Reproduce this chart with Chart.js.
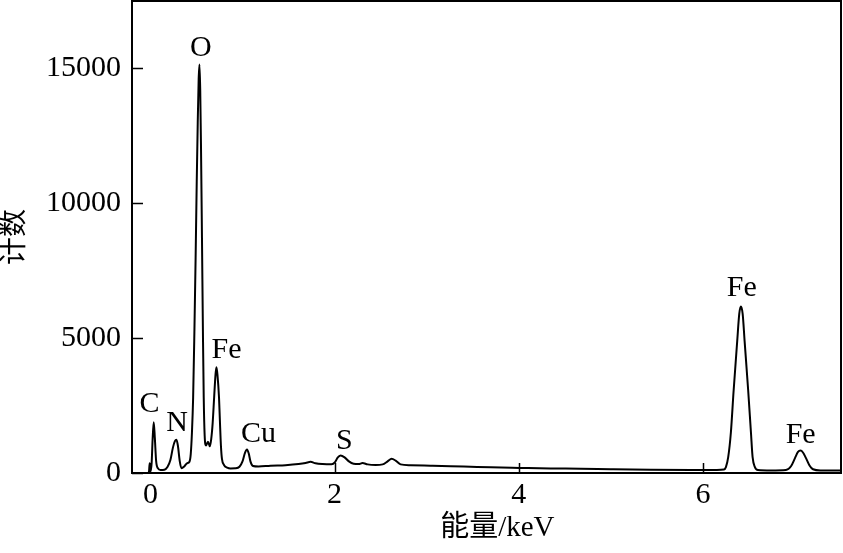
<!DOCTYPE html>
<html><head><meta charset="utf-8">
<script src="https://cdn.jsdelivr.net/npm/chart.js@4/dist/chart.umd.min.js"></script>
<style>html,body{margin:0;padding:0;background:#fff}#wrap{width:843px;height:553px}</style>
</head><body><div id="wrap"><canvas id="c" width="843" height="553"></canvas></div>
<script>
// Energy (keV)
const energyKeV = [
 -0.2, -0.033, -0.016, -0.008, 0.002, 0.013, 0.024, 0.036, 0.048, 0.062, 0.082, 0.109, 0.152,
 0.185, 0.217, 0.245, 0.266, 0.283, 0.299, 0.318, 0.337, 0.364, 0.397, 0.424, 0.438, 0.451,
 0.464, 0.478, 0.491, 0.503, 0.514, 0.524, 0.533, 0.541, 0.549, 0.560, 0.571, 0.579, 0.589,
 0.603, 0.625, 0.645, 0.660, 0.676, 0.692, 0.707, 0.717, 0.728, 0.745, 0.755, 0.766, 0.777,
 0.799, 0.834, 0.870, 0.924, 0.967, 1.000, 1.027, 1.049, 1.068, 1.087, 1.114, 1.174, 1.304,
 1.467, 1.609, 1.685, 1.739, 1.793, 1.870, 1.967, 2.005, 2.033, 2.065, 2.109, 2.152, 2.207,
 2.261, 2.304, 2.359, 2.446, 2.522, 2.576, 2.620, 2.663, 2.717, 2.826, 3.043, 3.261, 3.478,
 3.696, 4.011, 4.348, 4.674, 5.000, 5.435, 5.870, 6.152, 6.228, 6.250, 6.275, 6.304, 6.334,
 6.373, 6.395, 6.413, 6.432, 6.453, 6.492, 6.522, 6.540, 6.565, 6.598, 6.739, 6.902, 6.957,
 7.000, 7.033, 7.060, 7.087, 7.120, 7.158, 7.196, 7.283, 7.510
];
// Counts
const counts = [
 0, 0, 40, 360, 80, 350, 1250, 1880, 1300, 450, 170, 110, 120,
 220, 480, 950, 1180, 1230, 1000, 450, 180, 230, 360, 420, 700, 1500,
 2800, 5300, 8000, 10800, 13000, 14600, 15150, 14200, 12200, 8700, 5000, 2800, 1400,
 1020, 1160, 990, 1250, 1850, 2800, 3650, 3920, 3650, 2800, 1900, 1000, 520,
 300, 200, 170, 175, 230, 430, 750, 870, 720, 420, 260, 240, 270,
 290, 330, 370, 415, 360, 330, 320, 400, 570, 650, 580, 440, 340,
 330, 370, 320, 300, 320, 430, 525, 460, 320, 290, 270, 250, 230,
 210, 190, 170, 160, 140, 120, 115, 115, 130, 220, 585, 1500, 3060,
 4900, 5900, 6170, 5900, 4900, 3060, 1500, 585, 220, 110, 95, 110, 250,
 550, 780, 830, 760, 550, 280, 140, 95, 90
];
const xTickValues = [0, 2, 4, 6];
const yTickValues = [0, 5000, 10000, 15000];
const peakNames = ['C', 'N', 'O', 'Fe', 'Cu', 'S', 'Fe', 'Fe'];
const peakLabelKeV = [-0.011, 0.29, 0.547, 0.826, 1.174, 2.107, 6.422, 7.062];
const peakLabelCounts = [2555, 1840, 15750, 4555, 1440, 1185, 6850, 1400];

const SERIF = "'Liberation Serif', 'Times New Roman', 'Noto Sans CJK SC', serif";

const points = energyKeV.map((e, i) => ({x: e, y: counts[i]}));

const framePlugin = {
  id: 'frameTicks',
  afterDatasetsDraw(chart) {
    const {ctx, chartArea: a, scales: {x, y}} = chart;
    ctx.save();
    ctx.strokeStyle = '#000';
    ctx.lineWidth = 1.5;
    ctx.beginPath();
    xTickValues.forEach(v => {
      const px = Math.round(x.getPixelForValue(v)) + 0.5;
      ctx.moveTo(px, a.bottom); ctx.lineTo(px, a.bottom - 10);
    });
    yTickValues.forEach(v => {
      const py = Math.round(y.getPixelForValue(v)) + 0.5;
      ctx.moveTo(a.left, py); ctx.lineTo(a.left + 11, py);
    });
    ctx.stroke();
    ctx.lineWidth = 2;
    ctx.strokeRect(a.left, a.top, a.right - a.left, a.bottom - a.top);
    // peak labels
    ctx.fillStyle = '#000';
    ctx.font = '30px ' + SERIF;
    ctx.textAlign = 'center';
    ctx.textBaseline = 'middle';
    peakNames.forEach((n, i) => {
      ctx.fillText(n, x.getPixelForValue(peakLabelKeV[i]), y.getPixelForValue(peakLabelCounts[i]));
    });
    ctx.restore();
  }
};

new Chart(document.getElementById('c'), {
  type: 'line',
  data: {
    datasets: [{
      data: points,
      borderColor: '#000',
      borderWidth: 2,
      pointRadius: 0,
      cubicInterpolationMode: 'monotone',
      fill: false
    }]
  },
  options: {
    responsive: false,
    animation: false,
    devicePixelRatio: 1,
    layout: {padding: {left: 0, top: 1, right: 2, bottom: 0}},
    plugins: {legend: {display: false}, tooltip: {enabled: false}},
    scales: {
      x: {
        type: 'linear',
        min: -0.2, max: 7.5,
        afterBuildTicks: s => { s.ticks = xTickValues.map(v => ({value: v})); },
        afterFit: s => { s.height = 80; s.paddingLeft = 0; s.paddingRight = 0; },
        grid: {display: false, drawTicks: false},
        border: {display: false},
        ticks: {
          padding: 4,
          color: '#000',
          font: {family: SERIF, size: 30},
          callback: v => String(v),
          maxRotation: 0
        },
        title: {
          display: true,
          text: '   能量/keV',
          color: '#000',
          font: {family: SERIF, size: 29, lineHeight: 1.0},
          padding: {top: 0, bottom: 10}
        }
      },
      y: {
        type: 'linear',
        min: 0, max: 17500,
        afterBuildTicks: s => { s.ticks = yTickValues.map(v => ({value: v})); },
        afterFit: s => { s.width = 132; s.paddingTop = 0; s.paddingBottom = 0; },
        grid: {display: false, drawTicks: false},
        border: {display: false},
        ticks: {
          padding: 11,
          color: '#000',
          font: {family: SERIF, size: 30},
          callback: v => String(v)
        },
        title: {
          display: true,
          text: '计数',
          color: '#000',
          font: {family: SERIF, size: 28, lineHeight: 1.0},
          padding: {top: 2, bottom: 0}
        }
      }
    }
  },
  plugins: [framePlugin]
});
</script>
</body></html>
